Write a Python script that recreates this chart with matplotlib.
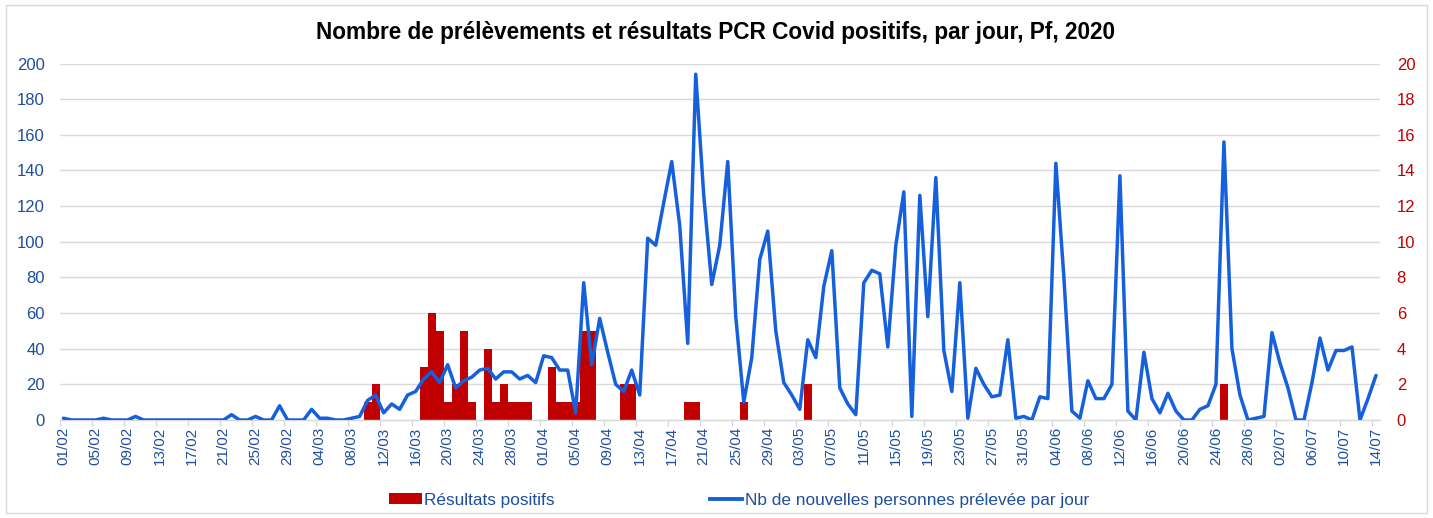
import matplotlib
matplotlib.use("Agg")
import matplotlib.pyplot as plt
import numpy as np
import pandas as pd
from matplotlib.patches import Rectangle, Patch
from matplotlib.lines import Line2D

# ---------------- data ----------------
dates = pd.date_range("2020-02-01", "2020-07-14", freq="D")
day_labels = [d.strftime("%d/%m") for d in dates]

# Nb de nouvelles personnes prélevée par jour (left axis)
preleves = [
    1, 0, 0, 0, 0, 1, 0, 0, 0, 2,
    0, 0, 0, 0, 0, 0, 0, 0, 0, 0,
    0, 3, 0, 0, 2, 0, 0, 8, 0, 0,
    0, 6, 1, 1, 0, 0, 1, 2, 11, 14,
    4, 9, 6, 14, 16, 23, 27, 21, 31, 18,
    22, 24, 28, 29, 23, 27, 27, 23, 25, 21,
    36, 35, 28, 28, 4, 77, 31, 57, 38, 20,
    16, 28, 14, 102, 98, 122, 145, 109, 43, 194,
    126, 76, 98, 145, 58, 10, 35, 90, 106, 50,
    21, 14, 6, 45, 35, 75, 95, 18, 9, 3,
    77, 84, 82, 41, 98, 128, 2, 126, 58, 136,
    39, 16, 77, 1, 29, 20, 13, 14, 45, 1,
    2, 0, 13, 12, 144, 80, 5, 1, 22, 12,
    12, 20, 137, 5, 0, 38, 12, 4, 15, 5,
    0, 0, 6, 8, 20, 156, 40, 14, 0, 1,
    2, 49, 32, 18, 0, 0, 21, 46, 28, 39,
    39, 41, 0, 12, 25,
]

# Résultats positifs (right axis)
positifs = [
    0, 0, 0, 0, 0, 0, 0, 0, 0, 0,
    0, 0, 0, 0, 0, 0, 0, 0, 0, 0,
    0, 0, 0, 0, 0, 0, 0, 0, 0, 0,
    0, 0, 0, 0, 0, 0, 0, 0, 1, 2,
    0, 0, 0, 0, 0, 3, 6, 5, 1, 2,
    5, 1, 0, 4, 1, 2, 1, 1, 1, 0,
    0, 3, 1, 1, 1, 5, 5, 0, 0, 0,
    2, 2, 0, 0, 0, 0, 0, 0, 1, 1,
    0, 0, 0, 0, 0, 1, 0, 0, 0, 0,
    0, 0, 0, 2, 0, 0, 0, 0, 0, 0,
    0, 0, 0, 0, 0, 0, 0, 0, 0, 0,
    0, 0, 0, 0, 0, 0, 0, 0, 0, 0,
    0, 0, 0, 0, 0, 0, 0, 0, 0, 0,
    0, 0, 0, 0, 0, 0, 0, 0, 0, 0,
    0, 0, 0, 0, 0, 2, 0, 0, 0, 0,
    0, 0, 0, 0, 0, 0, 0, 0, 0, 0,
    0, 0, 0, 0, 0,
]

left_ticks = list(range(0, 201, 20))
right_ticks = list(range(0, 21, 2))
title = "Nombre de prélèvements et résultats PCR Covid positifs, par jour, Pf, 2020"
label_bars = "Résultats positifs"
label_line = "Nb de nouvelles personnes prélevée par jour"

# ---------------- style ----------------
FONT = "Liberation Sans"
BLUE_TXT = "#1F4E9C"
RED_TXT = "#C00000"
LINE_C = "#1560DC"
BAR_C = "#C00000"
GRID_C = "#D9D9D9"

plt.rcParams["font.family"] = [FONT, "DejaVu Sans"]

W, H = 1433, 518
fig = plt.figure(figsize=(W / 100, H / 100), dpi=100)
fig.patch.set_facecolor("white")

# outer border
fig.add_artist(Rectangle((6 / W, 5 / H), (1427 - 6) / W, (513 - 5) / H,
                         transform=fig.transFigure, fill=False,
                         edgecolor=GRID_C, lw=1.0))

x0, x1 = 59.5, 1380.0
ytop, ybot = 63.5, 420.0
ax = fig.add_axes([x0 / W, (H - ybot) / H, (x1 - x0) / W, (ybot - ytop) / H])
ax2 = ax.twinx()

x = np.arange(len(dates))

# bars on secondary axis (drawn below)
ax2.bar(x, positifs, width=1.0, color=BAR_C, edgecolor="none", zorder=2)
ax2.set_ylim(0, 20)
ax2.set_yticks(right_ticks)
ax2.yaxis.grid(True, color=GRID_C, lw=1.0, zorder=0)
ax2.set_axisbelow(True)
ax2.tick_params(axis="y", length=0, pad=12, labelsize=12, labelcolor=RED_TXT)

# line on primary axis (drawn on top)
ax.plot(x, preleves, color=LINE_C, lw=2.5, solid_joinstyle="round",
        solid_capstyle="round", zorder=3)
ax.set_zorder(ax2.get_zorder() + 1)
ax.patch.set_visible(False)
ax.set_ylim(0, 200)
ax.set_yticks(left_ticks)
ax.tick_params(axis="y", length=0, pad=10.5, labelsize=12, labelcolor=BLUE_TXT)

ax.set_xlim(-0.5, len(dates) - 0.5)
ax.set_xticks(x[::4])
ax.set_xticklabels(day_labels[::4], rotation=90)
ax.set_xticks(np.arange(-0.5, len(dates), 4), minor=True)
ax.tick_params(axis="x", which="major", length=0, pad=5, labelsize=11,
               labelcolor=BLUE_TXT)
ax.tick_params(axis="x", which="minor", length=4, width=1, color=GRID_C)

for a in (ax, ax2):
    for s in ("left", "right", "top"):
        a.spines[s].set_visible(False)
ax2.spines["bottom"].set_visible(False)
ax.spines["bottom"].set_color(GRID_C)
ax.spines["bottom"].set_linewidth(1.0)

fig.text(716 / W, 1 - 32 / H, title, ha="center", va="center",
         fontsize=16.3, fontweight="bold", color="black")

handles = [Patch(facecolor=BAR_C, edgecolor="none"),
           Line2D([0], [0], color=LINE_C, lw=2.8)]
leg = fig.legend(handles, [label_bars, label_line], loc="center",
                 bbox_to_anchor=(739 / W, 1 - 500 / H), ncol=2, frameon=False,
                 fontsize=12.4, handlelength=1.9, handleheight=0.6,
                 handletextpad=0.15, columnspacing=9.0, borderpad=0)
for t in leg.get_texts():
    t.set_color(BLUE_TXT)

fig.savefig("out.png", dpi=100, facecolor="white")
